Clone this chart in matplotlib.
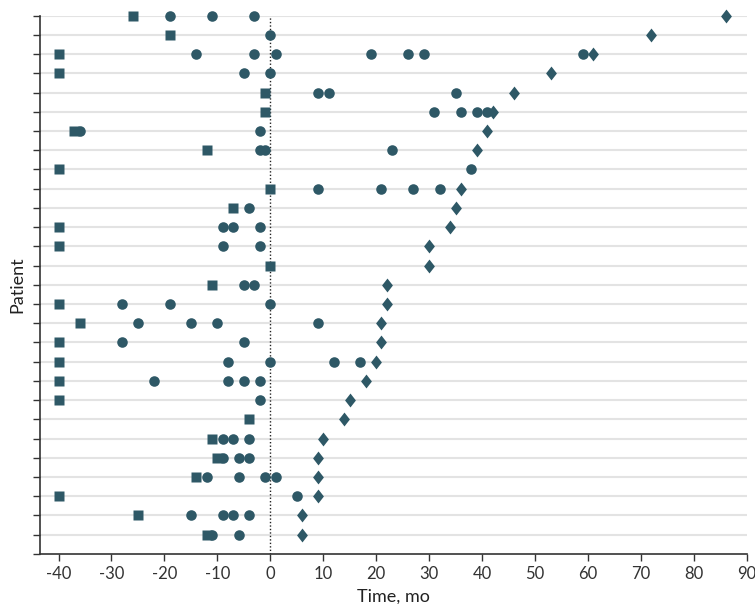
import matplotlib
matplotlib.use('Agg')
import matplotlib.pyplot as plt
from matplotlib.path import Path

plt.rcParams['font.family'] = ['Lato', 'DejaVu Sans']
plt.rcParams['axes.unicode_minus'] = False

# one row per patient, bottom (1) to top (28)
patients = list(range(1, 29))

# first event time (square), per patient
start = [-12, -25, -40, -14, -10, -11, -4, -40, -40, -40,
         -40, -36, -40, -11, 0, -40, -40, -7, 0, -40,
         -12, -37, -1, -1, -40, -40, -19, -26]

# intermediate events (circles), per patient
visits = [
    [-11, -6],
    [-15, -9, -7, -4],
    [5],
    [-12, -6, -1, 1],
    [-9, -6, -4],
    [-9, -7, -4],
    [],
    [-2],
    [-22, -8, -5, -2],
    [-8, 0, 12, 17],
    [-28, -5],
    [-25, -15, -10, 9],
    [-28, -19, 0],
    [-5, -3],
    [],
    [-9, -2],
    [-9, -7, -2],
    [-4],
    [9, 21, 27, 32],
    [38],
    [-2, -1, 23],
    [-36, -2],
    [31, 36, 39, 41],
    [9, 11, 35],
    [-5, 0],
    [-14, -3, 1, 19, 26, 29, 59],
    [0],
    [-19, -11, -3],
]

# last follow-up time (diamond), per patient; None = no diamond
last = [6, 6, 9, 9, 9, 10, 14, 15, 18, 20,
        21, 21, 22, 22, 30, 30, 34, 35, 36, None,
        39, 41, 42, 46, 53, 61, 72, 86]

color = '#2E5866'
diamond = Path([(0, 1), (0.78, 0), (0, -1), (-0.78, 0), (0, 1)],
               [Path.MOVETO, Path.LINETO, Path.LINETO, Path.LINETO, Path.CLOSEPOLY])

fig = plt.figure(figsize=(7.55, 6.04), dpi=100)
ax = fig.add_axes([0.053, 0.083, 0.936, 0.891])

for p in patients:
    ax.axhline(p, color='#e3e3e3', lw=1.5, zorder=0)

ax.axvline(0, color='#222222', lw=1, ls=(0, (1, 1.5)), zorder=1)

vx = [x for row in visits for x in row]
vy = [p for p, row in zip(patients, visits) for _ in row]
ax.plot(vx, vy, 'o', color=color, ms=7.6, mec='none', zorder=3, clip_on=False)
ax.plot(start, patients, 's', color=color, ms=7.3, mec='none', zorder=3, clip_on=False)
lx = [x for x in last if x is not None]
ly = [p for p, x in zip(patients, last) if x is not None]
ax.plot(lx, ly, ls='none', marker=diamond, color=color, ms=10, mec='none',
        zorder=3, clip_on=False)

ax.set_xlim(-43.5, 90)
ax.set_ylim(0, 28)
ax.set_xticks(range(-40, 91, 10))
ax.set_yticks(range(0, 29))
ax.set_yticklabels([])

for side in ['top', 'right']:
    ax.spines[side].set_visible(False)
for side in ['left', 'bottom']:
    ax.spines[side].set_color('#333333')
    ax.spines[side].set_linewidth(1.2)
ax.tick_params(axis='both', color='#333333', length=5, width=1, labelsize=12,
               labelcolor='#333333')
ax.set_xlabel('Time, mo', fontsize=13, color='#222222', labelpad=5)
ax.set_ylabel('Patient', fontsize=13, color='#222222', labelpad=2)

fig.savefig('out.png', dpi=100)
